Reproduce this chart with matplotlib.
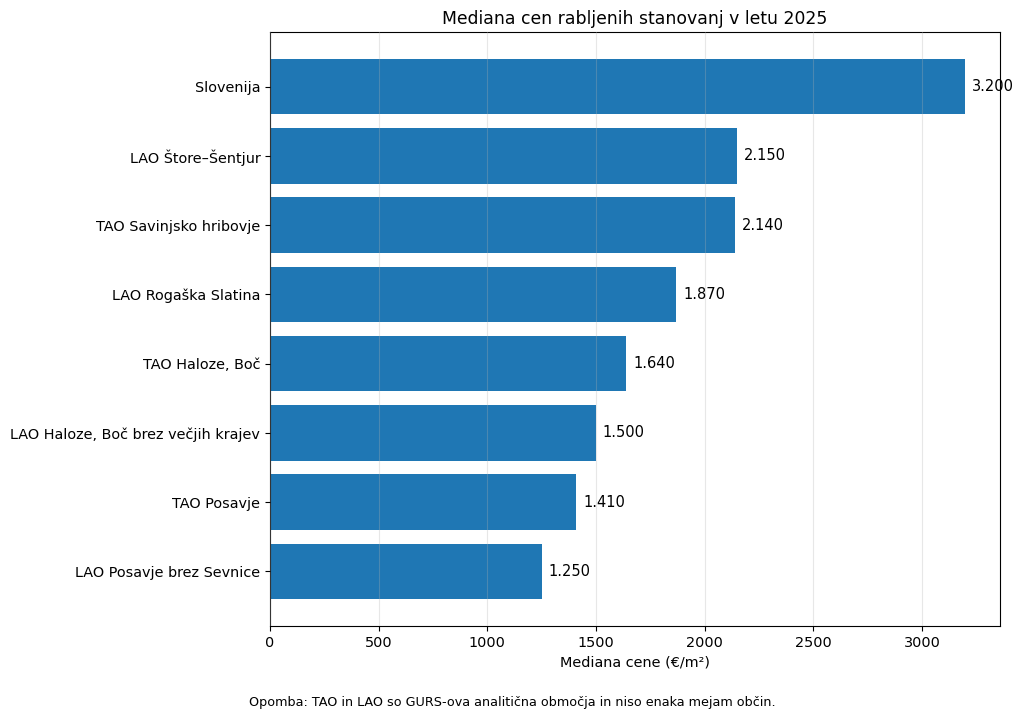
import matplotlib
matplotlib.use("Agg")
import matplotlib.pyplot as plt

# Data
regions = [
    "Slovenija",
    "LAO Štore–Šentjur",
    "TAO Savinjsko hribovje",
    "LAO Rogaška Slatina",
    "TAO Haloze, Boč",
    "LAO Haloze, Boč brez večjih krajev",
    "TAO Posavje",
    "LAO Posavje brez Sevnice",
]
median_price = [3200, 2150, 2140, 1870, 1640, 1500, 1410, 1250]

fig = plt.figure(figsize=(10.24, 7.21), dpi=100)
ax = fig.add_axes([0.2637, 0.1318, 0.7129, 0.8238])

bars = ax.barh(regions, median_price, color="#1f77b4", height=0.8)
ax.invert_yaxis()
ax.set_xlim(0, max(median_price) * 1.05)

# grid over bars, faint
ax.grid(axis="x", alpha=0.3)
ax.set_axisbelow(False)

labels = [f"{v:,}".replace(",", ".") for v in median_price]
ax.bar_label(bars, labels=labels, padding=5, fontsize=10.5)

ax.set_title("Mediana cen rabljenih stanovanj v letu 2025", fontsize=12.4)
ax.set_xlabel("Mediana cene (€/m²)", fontsize=10.4)
ax.tick_params(labelsize=10.4)

fig.text(0.5, 0.025, "Opomba: TAO in LAO so GURS-ova analitična območja in niso enaka mejam občin.",
         ha="center", va="center", fontsize=9.2)

fig.savefig("out.png", dpi=100)
